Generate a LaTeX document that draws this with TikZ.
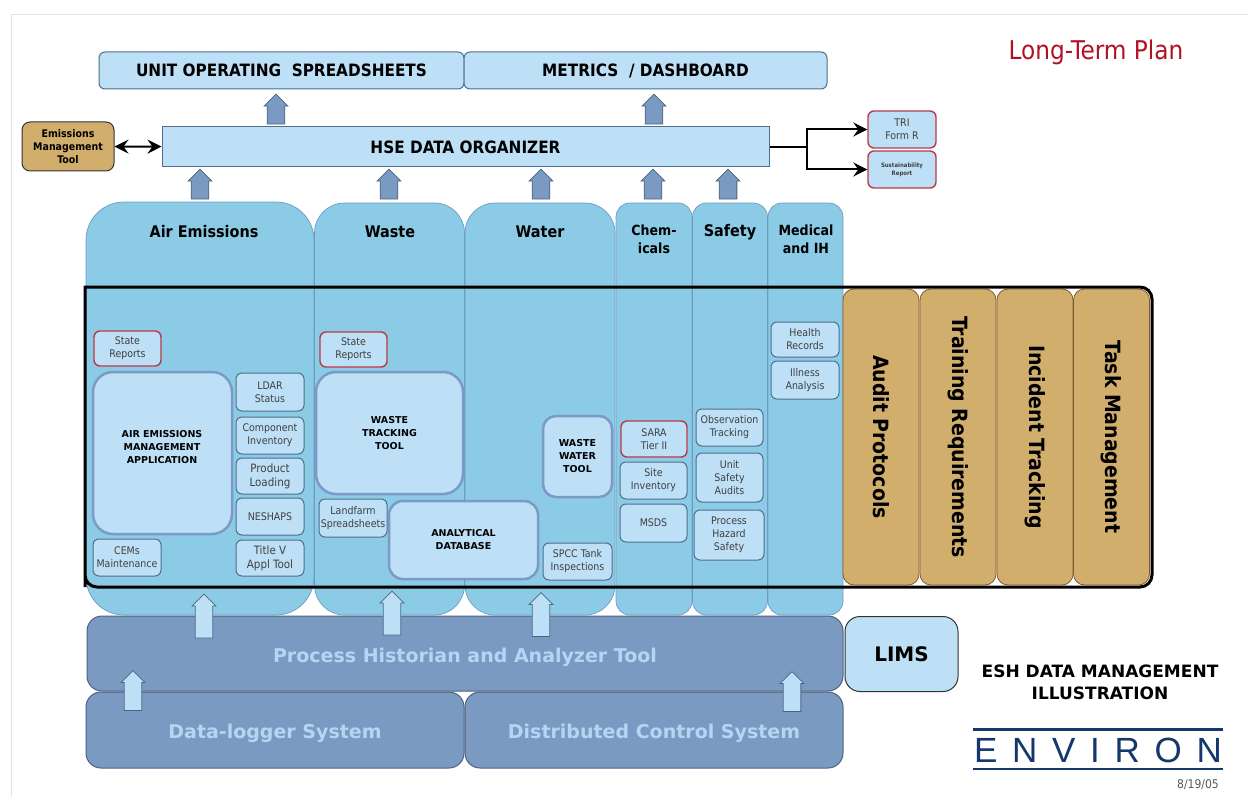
\documentclass[tikz,border=0pt]{standalone}
\usepackage{fontspec}
\usepackage{color}
\usetikzlibrary{arrows.meta,shapes.arrows}
\setmainfont{DejaVu Sans Condensed}
\newfontfamily\verdfont{DejaVu Sans}
\newfontfamily\logofont{Liberation Sans}
\definecolor{lanecol}{HTML}{8BCBE5}
\definecolor{lanelinecol}{HTML}{6F9CC4}
\definecolor{boxcol}{HTML}{BDE0F7}
\definecolor{boxlinecol}{HTML}{4F6F8C}
\definecolor{toolinecol}{HTML}{7B9AC6}
\definecolor{darkcol}{HTML}{7B9AC2}
\definecolor{darklinecol}{HTML}{4D6480}
\definecolor{pale}{HTML}{B3D6F3}
\definecolor{tancol}{HTML}{D2AE6D}
\definecolor{redcol}{HTML}{BA3A48}
\definecolor{plancol}{HTML}{B01224}
\definecolor{navy}{HTML}{14386B}
\definecolor{edgecol}{HTML}{D5E8F0}
\tikzset{
  size/.style 2 args={minimum width=#1,minimum height=#2,inner sep=0pt,align=center},
  topbox/.style={draw=boxlinecol,fill=boxcol,line width=1pt,rounded corners=6pt,font=\fontsize{17}{19}\selectfont\bfseries},
  lane/.style={draw=lanelinecol,fill=lanecol,line width=0.7pt},
  lanename/.style={font=\fontsize{16}{18}\selectfont\bfseries,align=center},
  smallbox/.style={draw=boxlinecol,fill=boxcol,line width=1pt,rounded corners=6pt,text=black!75,font=\fontsize{10.5}{13}\selectfont},
  redbox/.style={smallbox,draw=redcol,line width=1.4pt},
  toolbox/.style={draw=toolinecol,fill=boxcol,line width=2.5pt,rounded corners=20pt,font=\verdfont\fontsize{9.5}{13}\selectfont\bfseries},
  tanbox/.style={draw=brown!70!black,fill=tancol,line width=0.8pt,rounded corners=11pt,rotate=-90,font=\fontsize{21}{24}\selectfont\bfseries},
  base/.style={draw=darklinecol,fill=darkcol,line width=1pt,rounded corners=15pt,text=pale,text height=17pt,text depth=0pt,font=\verdfont\fontsize{19}{22}\selectfont\bfseries},
  uparrow/.style={single arrow,draw=darklinecol,inner sep=8pt,line width=0.8pt,minimum width=24pt,minimum height=#1,single arrow head extend=3pt,shape border rotate=90},
  darkarrow/.style={uparrow=30pt,fill=darkcol},
  palearrow/.style={uparrow=44pt,fill=boxcol},
  shortarrow/.style={uparrow=40pt,fill=boxcol},
  link/.style={draw=black,line width=2pt,-{Stealth[length=14pt,width=14pt,inset=5pt]}},
}
\begin{document}
\begin{tikzpicture}[x=1pt,y=-1pt]
  \useasboundingbox (0,0) rectangle (1248,797);
  \fill[white] (0,0) rectangle (1248,797);
  \draw[color=edgecol, line width=0.8pt] (11,797) -- (11,14) -- (1248,14);

  \node[lane,size={228pt}{413pt},rounded corners=38pt] (air) at (200,408.5) {};
  \node[lane,size={150pt}{412pt},rounded corners=30pt] (waste) at (389.5,409) {};
  \node[lane,size={150pt}{412pt},rounded corners=30pt] (water) at (540,409) {};
  \node[lane,size={76pt}{412pt},rounded corners=14pt] (chem) at (654,409) {};
  \node[lane,size={75pt}{412pt},rounded corners=14pt] (safety) at (730,409) {};
  \node[lane,size={75pt}{412pt},rounded corners=14pt] (medical) at (805.5,409) {};
  \node[lanename] (airname) at (204,232) {Air Emissions};
  \node[lanename] (wastename) at (390,232) {Waste};
  \node[lanename] (watername) at (540,232) {Water};
  \node[lanename,font=\fontsize{14}{18}\selectfont\bfseries] (chemname) at (654,239) {Chem-\\icals};
  \node[lanename] (safetyname) at (730,232) {Safety};
  \node[lanename,font=\fontsize{14}{18}\selectfont\bfseries] (medicalname) at (806,239) {Medical\\and IH};

  \node[tanbox,size={296pt}{76pt}] (audit) at (881,437) {Audit Protocols};
  \node[tanbox,size={296pt}{76pt}] (training) at (958,437) {Training Requirements};
  \node[tanbox,size={296pt}{76pt}] (incident) at (1035,437) {Incident Tracking};
  \node[tanbox,size={296pt}{76pt}] (task) at (1111.5,437) {Task Management};
  \draw[color=black, line width=3pt] (85,587) -- (85,287) [rounded corners=12pt] -- (1152,287) -- (1152,587) -- (85,587) [sharp corners] -- cycle;

  \node[topbox,size={365pt}{37pt}] (unit) at (281.5,70.5) {UNIT OPERATING\ \ SPREADSHEETS};
  \node[topbox,size={363pt}{37pt}] (metrics) at (645.5,70.5) {METRICS\ \ / DASHBOARD};
  \node[topbox,size={607pt}{40pt},rounded corners=0pt] (hse) at (465.5,147) {HSE DATA ORGANIZER};
  \node[topbox,size={92pt}{49pt},draw=black!80,fill=tancol,rounded corners=8pt,font=\fontsize{10.5}{13}\selectfont\bfseries] (emis) at (68,146.5) {Emissions\\Management\\Tool};
  \node[redbox,size={68pt}{37pt}] (tri) at (902,129.5) {TRI\\Form R};
  \node[redbox,size={68pt}{37pt},font=\fontsize{6}{8}\selectfont\bfseries] (sust) at (902,169.5) {Sustainability\\Report};
  \node[text=plancol,font=\fontsize{25.8}{28}\selectfont] (plan) at (1096,52) {Long-Term Plan};

  \draw[link,{Stealth[length=14pt,width=14pt,inset=5pt]}-{Stealth[length=14pt,width=14pt,inset=5pt]}] (emis) -- (hse);
  \draw[color=black, line width=2pt] (hse.east) -- (807,147) coordinate (fork);
  \draw[link] (fork) |- (tri);
  \draw[link] (fork) |- (sust);

  \node[redbox,size={67pt}{35pt}] (stateair) at (127.5,348.5) {State\\Reports};
  \node[toolbox,size={139pt}{162pt}] (airapp) at (162.5,453) {};
  \node[font=\verdfont\fontsize{9.5}{13}\selectfont\bfseries,align=center] (airapptext) at (162,447) {AIR EMISSIONS\\MANAGEMENT\\APPLICATION};
  \node[smallbox,size={68pt}{38pt}] (ldar) at (270,392) {LDAR\\Status};
  \node[smallbox,size={68pt}{37pt}] (component) at (270,435.5) {Component\\Inventory};
  \node[smallbox,size={68pt}{36pt},font=\fontsize{11.5}{14}\selectfont] (product) at (270,476) {Product\\Loading};
  \node[smallbox,size={68pt}{37pt}] (neshaps) at (270,516.5) {NESHAPS};
  \node[smallbox,size={68pt}{36pt},font=\fontsize{11.5}{14}\selectfont] (titlev) at (270,558) {Title V\\Appl Tool};
  \node[smallbox,size={68pt}{37pt}] (cems) at (127,557.5) {CEMs\\Maintenance};

  \node[redbox,size={67pt}{35pt}] (statewaste) at (353.5,349.5) {State\\Reports};
  \node[toolbox,size={147pt}{122pt}] (wastetool) at (389.5,433) {WASTE\\TRACKING\\TOOL};
  \node[smallbox,size={68pt}{38pt}] (landfarm) at (353,518) {Landfarm\\Spreadsheets};
  \node[toolbox,size={149pt}{78pt},rounded corners=14pt] (database) at (463.5,540) {ANALYTICAL\\DATABASE};
  \node[toolbox,size={69pt}{81pt},rounded corners=13pt] (watertool) at (577.5,456.5) {WASTE\\WATER\\TOOL};
  \node[smallbox,size={69pt}{37pt}] (spcc) at (577.5,561.5) {SPCC Tank\\Inspections};

  \node[redbox,size={66pt}{36pt}] (sara) at (654,439) {SARA\\Tier II};
  \node[smallbox,size={67pt}{37pt}] (site) at (653.5,480.5) {Site\\Inventory};
  \node[smallbox,size={67pt}{38pt}] (msds) at (653.5,523) {MSDS};
  \node[smallbox,size={67pt}{37pt}] (observation) at (729.5,427.5) {Observation\\Tracking};
  \node[smallbox,size={67pt}{49pt}] (audits) at (729.5,477.5) {Unit\\Safety\\Audits};
  \node[smallbox,size={70pt}{50pt}] (hazard) at (729,535) {Process\\Hazard\\Safety};
  \node[smallbox,size={68pt}{35pt}] (health) at (805,339.5) {Health\\Records};
  \node[smallbox,size={68pt}{38pt}] (illness) at (805,380) {Illness\\Analysis};

  \node[base,size={756pt}{75pt}] (historian) at (465,653.5) {Process Historian and Analyzer Tool};
  \node[base,size={378pt}{76pt}] (logger) at (275,730) {Data-logger System};
  \node[base,size={378pt}{76pt}] (dcs) at (654,730) {Distributed Control System};
  \node[topbox,size={113pt}{75pt},draw=black!80,rounded corners=15pt,font=\verdfont\fontsize{20}{22}\selectfont\bfseries] (lims) at (901.5,654) {LIMS};

  \foreach \x/\y [count=\i] in {276/113.5, 654/113.5, 200/188.5, 389/188.5, 541/188.5, 653/188.5, 728/188.5}
  {
  \node[darkarrow] (dark\i) at (\x,\y) {};
  }
  \foreach \x/\y [count=\i] in {204/620.5, 392/617.5, 541/619}
  {
  \node[palearrow] (light\i) at (\x,\y) {};
  }
  \foreach \x/\y [count=\i] in {133/695, 792/696}
  {
  \node[shortarrow] (lower\i) at (\x,\y) {};
  }

  \node[font=\verdfont\fontsize{17}{22}\selectfont\bfseries,align=center] (esh) at (1100,682.5) {ESH DATA MANAGEMENT\\ILLUSTRATION};
  \draw[color=navy, line width=2.5pt] (973,729.5) -- (1223,729.5);
  \draw[color=navy, line width=2.5pt] (973,769) -- (1223,769);
  \node[text=navy,inner sep=0pt,font=\logofont\fontsize{35}{40}\selectfont] (environ) at (1098,750) {\addfontfeature{LetterSpace=42}ENVIRON};
  \node[text=black!65,font=\fontsize{12}{14}\selectfont] (date) at (1198,785) {8/19/05};
\end{tikzpicture}
\end{document}
